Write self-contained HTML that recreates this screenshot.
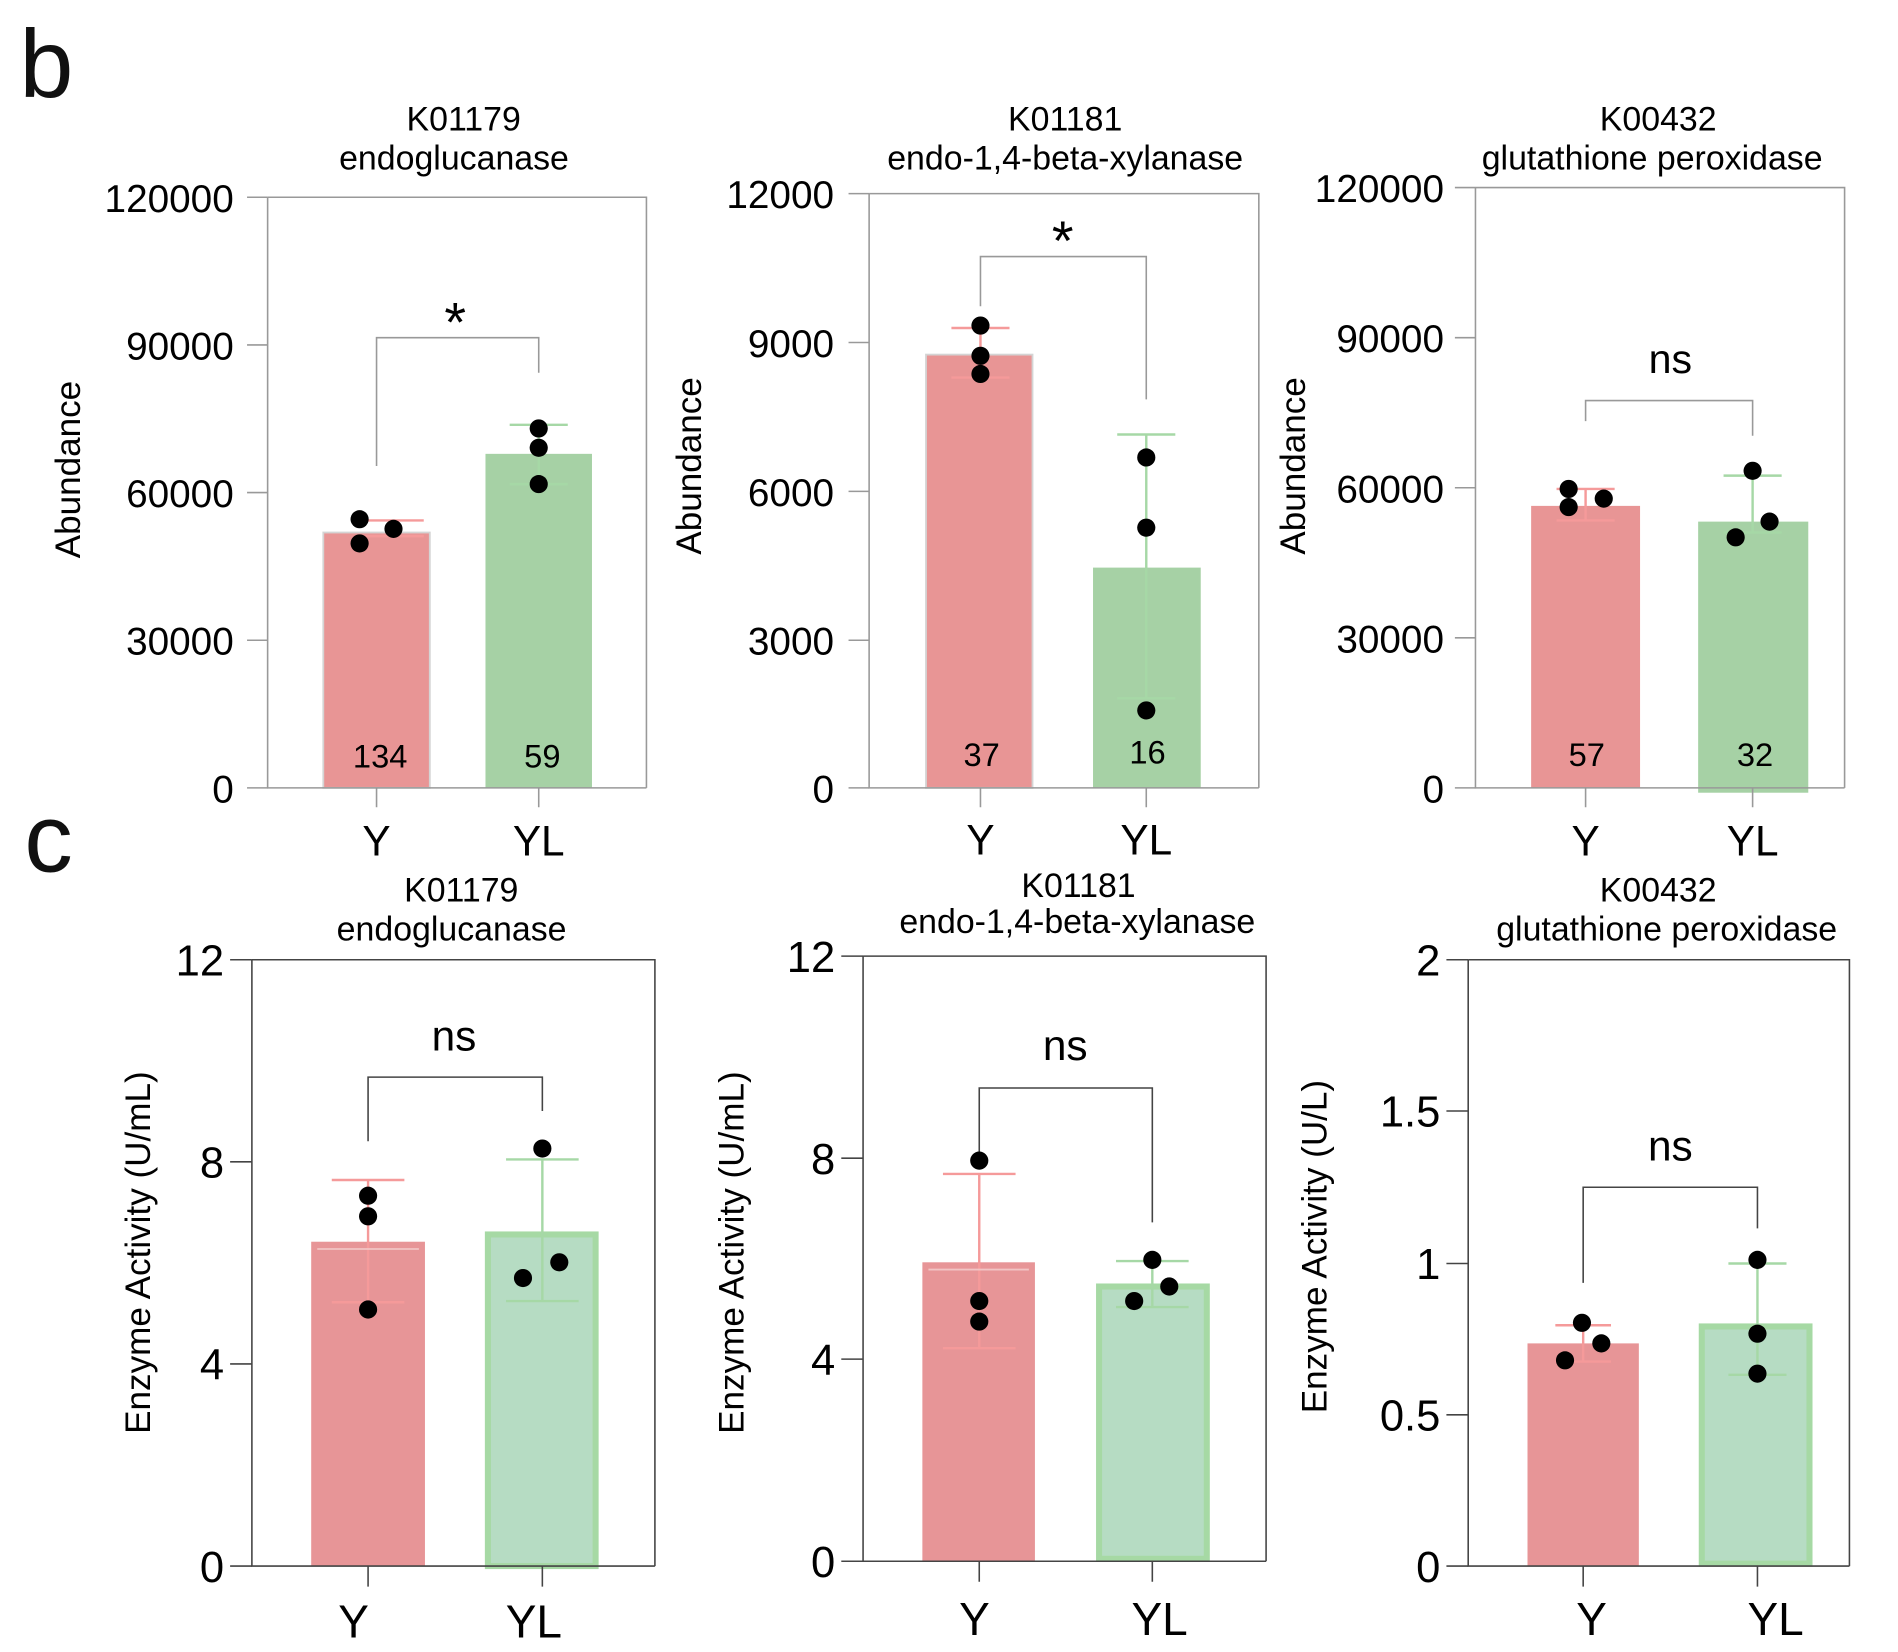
<!DOCTYPE html>
<html><head><meta charset="utf-8"><style>html,body{margin:0;padding:0;background:#fff}svg{display:block}</style></head>
<body>
<svg width="1898" height="1652" viewBox="0 0 1568 1365" xmlns="http://www.w3.org/2000/svg" font-family="Liberation Sans, Arial, sans-serif">
<rect width="1568" height="1365" fill="#fff"/>
<text x="16" y="80" font-size="80" fill="#111">b</text>
<text x="20" y="720" font-size="80" fill="#111">c</text>

<!-- ===== b1 ===== -->
<g>
<text x="383" y="108" font-size="28" text-anchor="middle">K01179</text>
<text x="375" y="140" font-size="28" text-anchor="middle">endoglucanase</text>
<rect x="267" y="440" width="88" height="211" fill="#e89595" stroke="#d4d4d4" stroke-width="1.5"/>
<rect x="401" y="375" width="88" height="276" fill="#a6d1a5"/>
<g stroke="#999" stroke-width="1.3" fill="none">
<path d="M221 163 H534 V651 M221 163 V651 H534"/>
<path d="M204 163H221 M204 285H221 M204 407H221 M204 529H221 M204 651H221"/>
<path d="M311 651V667 M445 651V667"/>
<path d="M311 385V279H445V308"/>
</g>
<path d="M300 430H350 M325 430V443 M300 443H350" stroke="#f59a9a" stroke-width="2"/>
<path d="M421 351H469 M445 351V400 M421 400H469" stroke="#a6d8a6" stroke-width="2"/>
<g fill="#000"><circle cx="297" cy="429" r="7.5"/><circle cx="297" cy="449" r="7.5"/><circle cx="325" cy="437" r="7.5"/><circle cx="445" cy="354" r="7.5"/><circle cx="445" cy="370" r="7.5"/><circle cx="445" cy="400" r="7.5"/></g>
<g font-size="32" text-anchor="end"><text x="193" y="175">120000</text><text x="193" y="297">90000</text><text x="193" y="419">60000</text><text x="193" y="541">30000</text><text x="193" y="663">0</text></g>
<text x="376" y="282" font-size="46" text-anchor="middle">*</text>
<text x="314" y="634" font-size="27" text-anchor="middle">134</text>
<text x="448" y="634" font-size="27" text-anchor="middle">59</text>
<text x="311" y="707" font-size="35" text-anchor="middle">Y</text>
<text x="445" y="707" font-size="35" text-anchor="middle">YL</text>
<text transform="translate(66,388) rotate(-90)" font-size="29" text-anchor="middle">Abundance</text>
</g>

<!-- ===== b2 ===== -->
<g>
<text x="880" y="108" font-size="28" text-anchor="middle">K01181</text>
<text x="880" y="140" font-size="28" text-anchor="middle">endo-1,4-beta-xylanase</text>
<rect x="765" y="293" width="88" height="358" fill="#e89595" stroke="#d4d4d4" stroke-width="1.5"/>
<rect x="903" y="469" width="89" height="182" fill="#a6d1a5"/>
<g stroke="#999" stroke-width="1.3" fill="none">
<path d="M718 160 H1040 V651 M718 160 V651 H1040"/>
<path d="M701 160H718 M701 283H718 M701 406H718 M701 529H718 M701 651H718"/>
<path d="M810 651V667 M947 651V667"/>
<path d="M810 253V212H947V330"/>
</g>
<path d="M786 271H834 M810 271V312 M786 312H834" stroke="#f59a9a" stroke-width="2"/>
<path d="M923 359H971 M947 359V577 M923 577H971" stroke="#a6d8a6" stroke-width="2"/>
<g fill="#000"><circle cx="810" cy="269" r="7.5"/><circle cx="810" cy="294" r="7.5"/><circle cx="810" cy="309" r="7.5"/><circle cx="947" cy="378" r="7.5"/><circle cx="947" cy="436" r="7.5"/><circle cx="947" cy="587" r="7.5"/></g>
<g font-size="32" text-anchor="end"><text x="689" y="172">12000</text><text x="689" y="295">9000</text><text x="689" y="418">6000</text><text x="689" y="541">3000</text><text x="689" y="663">0</text></g>
<text x="878" y="215" font-size="46" text-anchor="middle">*</text>
<text x="811" y="633" font-size="27" text-anchor="middle">37</text>
<text x="948" y="631" font-size="27" text-anchor="middle">16</text>
<text x="810" y="706" font-size="35" text-anchor="middle">Y</text>
<text x="947" y="706" font-size="35" text-anchor="middle">YL</text>
<text transform="translate(579,385) rotate(-90)" font-size="29" text-anchor="middle">Abundance</text>
</g>

<!-- ===== b3 ===== -->
<g>
<text x="1370" y="108" font-size="28" text-anchor="middle">K00432</text>
<text x="1365" y="140" font-size="28" text-anchor="middle">glutathione peroxidase</text>
<rect x="1265" y="418" width="90" height="233" fill="#e89595"/>
<rect x="1403" y="431" width="91" height="224" fill="#a6d1a5"/>
<g stroke="#999" stroke-width="1.3" fill="none">
<path d="M1219 155 H1524 V651 M1219 155 V651 H1524"/>
<path d="M1202 155H1219 M1202 279H1219 M1202 403H1219 M1202 527H1219 M1202 651H1219"/>
<path d="M1310 651V667 M1448 651V667"/>
<path d="M1310 348V331H1448V360"/>
</g>
<path d="M1286 404H1334 M1310 404V430 M1286 430H1334" stroke="#f59a9a" stroke-width="2"/>
<path d="M1424 393H1472 M1448 393V440 M1424 440H1472" stroke="#a6d8a6" stroke-width="2"/>
<g fill="#000"><circle cx="1296" cy="404" r="7.5"/><circle cx="1296" cy="419" r="7.5"/><circle cx="1325" cy="412" r="7.5"/><circle cx="1448" cy="389" r="7.5"/><circle cx="1434" cy="444" r="7.5"/><circle cx="1462" cy="431" r="7.5"/></g>
<g font-size="32" text-anchor="end"><text x="1193" y="167">120000</text><text x="1193" y="291">90000</text><text x="1193" y="415">60000</text><text x="1193" y="539">30000</text><text x="1193" y="663">0</text></g>
<text x="1380" y="308" font-size="34" text-anchor="middle">ns</text>
<text x="1311" y="633" font-size="27" text-anchor="middle">57</text>
<text x="1450" y="633" font-size="27" text-anchor="middle">32</text>
<text x="1310" y="707" font-size="35" text-anchor="middle">Y</text>
<text x="1448" y="707" font-size="35" text-anchor="middle">YL</text>
<text transform="translate(1078,385) rotate(-90)" font-size="29" text-anchor="middle">Abundance</text>
</g>

<!-- ===== c1 ===== -->
<g>
<text x="381" y="745" font-size="28" text-anchor="middle">K01179</text>
<text x="373" y="777" font-size="28" text-anchor="middle">endoglucanase</text>
<rect x="257" y="1026" width="94" height="268" fill="#e79597"/>
<rect x="403" y="1020" width="89" height="274" fill="#b6dcc3" stroke="#a6d9a4" stroke-width="5"/>
<g stroke="#444" stroke-width="1.3" fill="none">
<path d="M208 793 H541 V1294 M208 793 V1294 H541"/>
<path d="M190 793H208 M190 960H208 M190 1127H208 M190 1294H208"/>
<path d="M304 1294V1311 M448 1294V1311"/>
<path d="M304 943V890H448V918"/>
</g>
<path d="M274 975H334 M304 975V1076 M274 1076H334" stroke="#f59a9a" stroke-width="2"/>
<path d="M418 958H478 M448 958V1075 M418 1075H478" stroke="#a6d8a6" stroke-width="2"/>
<path d="M262 1032H346" stroke="#f2c4c4" stroke-width="1.5"/>
<g fill="#000"><circle cx="304" cy="988" r="7.5"/><circle cx="304" cy="1005" r="7.5"/><circle cx="304" cy="1082" r="7.5"/><circle cx="448" cy="949" r="7.5"/><circle cx="432" cy="1056" r="7.5"/><circle cx="462" cy="1043" r="7.5"/></g>
<g font-size="36" text-anchor="end"><text x="185" y="806">12</text><text x="185" y="973">8</text><text x="185" y="1140">4</text><text x="185" y="1307">0</text></g>
<text x="375" y="868" font-size="35" text-anchor="middle">ns</text>
<text x="292" y="1353" font-size="38" text-anchor="middle">Y</text>
<text x="441" y="1353" font-size="38" text-anchor="middle">YL</text>
<text transform="translate(124,1035) rotate(-90)" font-size="29" text-anchor="middle">Enzyme Activity (U/mL)</text>
</g>

<!-- ===== c2 ===== -->
<g>
<text x="891" y="741" font-size="28" text-anchor="middle">K01181</text>
<text x="890" y="771" font-size="28" text-anchor="middle">endo-1,4-beta-xylanase</text>
<rect x="762" y="1043" width="93" height="247" fill="#e79597"/>
<rect x="908" y="1063" width="89" height="225" fill="#b6dcc3" stroke="#a6d9a4" stroke-width="5"/>
<g stroke="#444" stroke-width="1.3" fill="none">
<path d="M713 790 H1046 V1290 M713 790 V1290 H1046"/>
<path d="M695 790H713 M695 957H713 M695 1123H713 M695 1290H713"/>
<path d="M809 1290V1307 M952 1290V1307"/>
<path d="M809 952V899H952V1010"/>
</g>
<path d="M779 970H839 M809 970V1114 M779 1114H839" stroke="#f59a9a" stroke-width="2"/>
<path d="M922 1042H982 M952 1042V1080 M922 1080H982" stroke="#a6d8a6" stroke-width="2"/>
<path d="M767 1049H850" stroke="#f2c4c4" stroke-width="1.5"/>
<g fill="#000"><circle cx="809" cy="959" r="7.5"/><circle cx="809" cy="1075" r="7.5"/><circle cx="809" cy="1092" r="7.5"/><circle cx="952" cy="1041" r="7.5"/><circle cx="937" cy="1075" r="7.5"/><circle cx="966" cy="1063" r="7.5"/></g>
<g font-size="36" text-anchor="end"><text x="690" y="803">12</text><text x="690" y="970">8</text><text x="690" y="1136">4</text><text x="690" y="1303">0</text></g>
<text x="880" y="876" font-size="35" text-anchor="middle">ns</text>
<text x="805" y="1351" font-size="38" text-anchor="middle">Y</text>
<text x="958" y="1351" font-size="38" text-anchor="middle">YL</text>
<text transform="translate(614,1035) rotate(-90)" font-size="29" text-anchor="middle">Enzyme Activity (U/mL)</text>
</g>

<!-- ===== c3 ===== -->
<g>
<text x="1370" y="745" font-size="28" text-anchor="middle">K00432</text>
<text x="1377" y="777" font-size="28" text-anchor="middle">glutathione peroxidase</text>
<rect x="1262" y="1110" width="92" height="184" fill="#e79597"/>
<rect x="1406" y="1096" width="89" height="196" fill="#b6dcc3" stroke="#a6d9a4" stroke-width="5"/>
<g stroke="#444" stroke-width="1.3" fill="none">
<path d="M1213 793 H1528 V1294 M1213 793 V1294 H1528"/>
<path d="M1195 793H1213 M1195 918H1213 M1195 1044H1213 M1195 1169H1213 M1195 1294H1213"/>
<path d="M1308 1294V1311 M1452 1294V1311"/>
<path d="M1308 1060V981H1452V1015"/>
</g>
<path d="M1285 1095H1331 M1308 1095V1125 M1285 1125H1331" stroke="#f59a9a" stroke-width="2"/>
<path d="M1428 1044H1476 M1452 1044V1136 M1428 1136H1476" stroke="#a6d8a6" stroke-width="2"/>
<g fill="#000"><circle cx="1307" cy="1093" r="7.5"/><circle cx="1293" cy="1124" r="7.5"/><circle cx="1323" cy="1110" r="7.5"/><circle cx="1452" cy="1041" r="7.5"/><circle cx="1452" cy="1102" r="7.5"/><circle cx="1452" cy="1135" r="7.5"/></g>
<g font-size="36" text-anchor="end"><text x="1190" y="806">2</text><text x="1190" y="931">1.5</text><text x="1190" y="1057">1</text><text x="1190" y="1182">0.5</text><text x="1190" y="1307">0</text></g>
<text x="1380" y="959" font-size="35" text-anchor="middle">ns</text>
<text x="1315" y="1351" font-size="38" text-anchor="middle">Y</text>
<text x="1467" y="1351" font-size="38" text-anchor="middle">YL</text>
<text transform="translate(1096,1030) rotate(-90)" font-size="29" text-anchor="middle">Enzyme Activity (U/L)</text>
</g>
</svg>
</body></html>
